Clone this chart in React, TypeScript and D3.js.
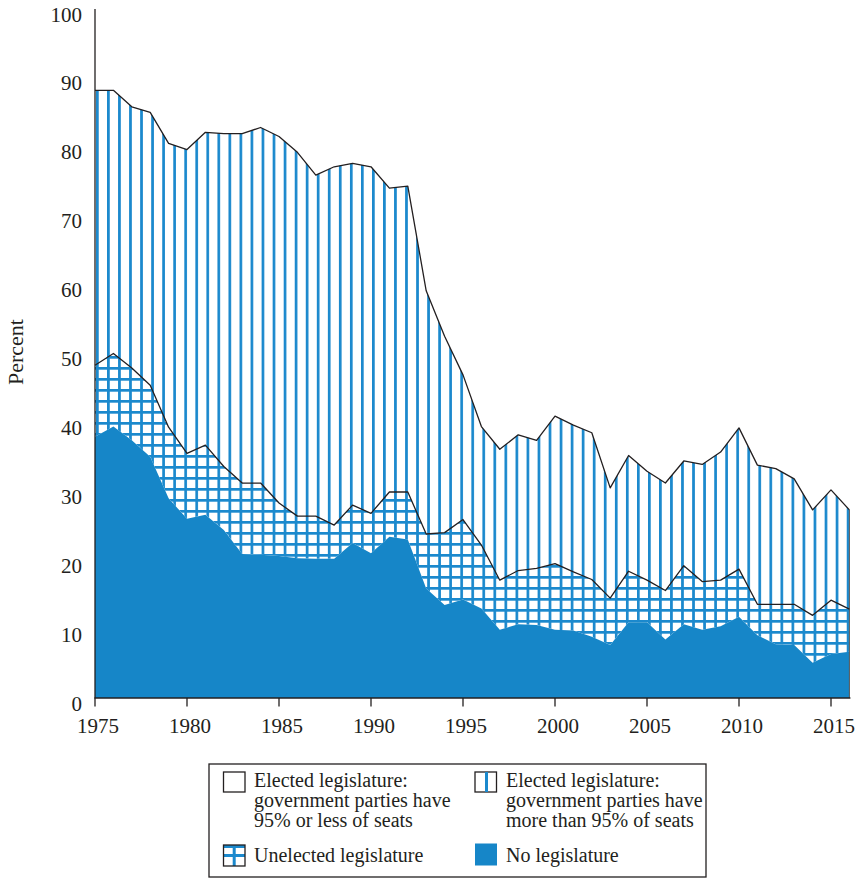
import React from 'react';
import * as d3 from 'd3';

const years = [
  1975, 1976, 1977, 1978, 1979, 1980, 1981, 1982, 1983, 1984,
  1985, 1986, 1987, 1988, 1989, 1990, 1991, 1992, 1993, 1994,
  1995, 1996, 1997, 1998, 1999, 2000, 2001, 2002, 2003, 2004,
  2005, 2006, 2007, 2008, 2009, 2010, 2011, 2012, 2013, 2014,
  2015, 2016,
];

// Share of countries (percent) in each category
const noLegislature = [
  37.9, 39.4, 37.4, 35.0, 29.0, 26.0, 26.6, 24.4, 20.9, 20.8,
  20.6, 20.3, 20.2, 20.2, 22.5, 21.0, 23.4, 23.0, 15.9, 13.5,
  14.3, 13.0, 9.9, 10.7, 10.6, 9.9, 9.8, 8.9, 7.7, 11.0,
  11.0, 8.5, 10.7, 9.9, 10.4, 11.8, 9.1, 7.8, 7.7, 5.1,
  6.4, 6.7,
];
const unelectedLegislature = [
  10.4, 10.6, 10.5, 10.4, 10.3, 9.5, 10.1, 9.2, 10.3, 10.4,
  7.7, 6.1, 6.2, 4.9, 5.5, 5.8, 6.5, 6.9, 7.9, 10.5,
  11.6, 9.2, 7.2, 7.8, 8.2, 9.6, 8.5, 8.3, 6.8, 7.4,
  6.1, 7.1, 8.5, 7.0, 6.7, 6.9, 4.5, 5.8, 5.9, 6.9,
  7.8, 6.2,
];
const electedOver95 = [
  39.9, 38.2, 37.9, 39.6, 41.2, 44.1, 45.4, 48.3, 50.7, 51.6,
  53.2, 52.8, 49.5, 52.0, 49.6, 50.3, 44.1, 44.4, 35.3, 28.5,
  21.0, 17.2, 19.0, 19.7, 18.6, 21.4, 21.3, 21.3, 16.0, 16.8,
  15.8, 15.6, 15.2, 17.0, 18.6, 20.5, 20.2, 19.7, 18.2, 15.3,
  16.0, 14.4,
];
const electedUnder95 = [
  11.8, 11.8, 14.2, 15.0, 19.5, 20.4, 17.9, 18.1, 18.1, 17.2,
  18.5, 20.8, 24.1, 22.9, 22.4, 22.9, 26.0, 25.7, 40.9, 47.5,
  53.1, 60.6, 63.9, 61.8, 62.6, 59.1, 60.4, 61.5, 69.5, 64.8,
  67.1, 68.8, 65.6, 66.1, 64.3, 60.8, 66.2, 66.7, 68.2, 72.7,
  69.8, 72.7,
];

const yTicks = [0, 10, 20, 30, 40, 50, 60, 70, 80, 90, 100];
const xTicks = [1975, 1980, 1985, 1990, 1995, 2000, 2005, 2010, 2015];

const BLUE = '#1686c8';
const STRIPE = '#1b89cd';
const INK = '#231f20';
const FONT = '"Liberation Serif", "Times New Roman", serif';

export default function App() {
  const W = 860;
  const H = 878;
  const x = d3.scaleLinear().domain([1975, 2016]).range([95, 849.4]);
  const y = d3.scaleLinear().domain([0, 100]).range([698, 9]);

  const rows = years.map((yr, i) => ({
    year: yr,
    none: noLegislature[i],
    unel: unelectedLegislature[i],
    over: electedOver95[i],
    under: electedUnder95[i],
  }));
  const series = d3.stack<any>().keys(['none', 'unel', 'over', 'under'])(rows);
  const byKey: Record<string, any> = {};
  series.forEach((s: any) => (byKey[s.key] = s));

  const area = d3
    .area<any>()
    .x((d) => x(d.data.year))
    .y0((d) => y(d[0]))
    .y1((d) => y(d[1]));
  const line = d3
    .line<any>()
    .x((d) => x(d.data.year))
    .y((d) => y(d[1]));

  const last = byKey['over'][byKey['over'].length - 1];

  return (
    <svg
      width={W}
      height={H}
      style={{ position: 'absolute', left: 0, top: 0, background: '#fff' }}
      fontFamily={FONT}
    >
      <defs>
        <pattern id="vstripe" patternUnits="userSpaceOnUse" x={96} y={0} width={11.04} height={11}>
          <rect x={0} y={0} width={11.04} height={11} fill="#fff" />
          <rect x={0} y={0} width={2.7} height={11} fill={STRIPE} />
        </pattern>
        <pattern id="grid" patternUnits="userSpaceOnUse" x={96} y={4} width={11.04} height={11}>
          <rect x={0} y={0} width={11.04} height={11} fill="#fff" />
          <rect x={0} y={0} width={2.7} height={11} fill={STRIPE} />
          <rect x={0} y={0} width={11.04} height={2.7} fill={STRIPE} />
        </pattern>
      </defs>

      <rect x={0} y={0} width={W} height={H} fill="#fff" />

      {/* stacked areas */}
      <path d={area(byKey['over']) || ''} fill="url(#vstripe)" />
      <path d={area(byKey['unel']) || ''} fill="url(#grid)" />
      <path d={area(byKey['none']) || ''} fill={BLUE} />

      {/* right edge */}
      <line x1={x(2016)} x2={x(2016)} y1={y(last[1])} y2={y(0)} stroke="#555" strokeWidth={1} />

      {/* boundary lines */}
      <path d={line(byKey['over']) || ''} fill="none" stroke={INK} strokeWidth={1.3} strokeLinejoin="round" />
      <path d={line(byKey['unel']) || ''} fill="none" stroke={INK} strokeWidth={1.3} strokeLinejoin="round" />

      {/* axes */}
      <line x1={x(1975)} x2={x(1975)} y1={y(100)} y2={y(0)} stroke={INK} strokeWidth={1.3} />
      <line x1={x(1975) - 0.6} x2={x(2016) + 1} y1={y(0)} y2={y(0)} stroke={INK} strokeWidth={1.3} />
      {xTicks.map((t) => (
        <g key={t}>
          <line x1={x(t)} x2={x(t)} y1={y(0)} y2={y(0) + 8.5} stroke={INK} strokeWidth={1.3} />
          <text x={x(t) + 3} y={733} textAnchor="middle" fontSize={21} fill={INK}>
            {t}
          </text>
        </g>
      ))}
      {yTicks.map((t) => (
        <text key={t} x={82} y={y(t) + 12.5} textAnchor="end" fontSize={21} fill={INK}>
          {t}
        </text>
      ))}
      <text
        transform={`translate(23, 352) rotate(-90)`}
        textAnchor="middle"
        fontSize={22}
        fill={INK}
      >
        Percent
      </text>

      {/* legend */}
      <rect x={209} y={764} width={497} height={113} fill="none" stroke={INK} strokeWidth={1.3} />
      <rect x={223.5} y={772} width={21.5} height={20} fill="#fff" stroke={INK} strokeWidth={1.3} />
      <text fontSize={20} fill={INK}>
        <tspan x={254} y={787}>Elected legislature:</tspan>
        <tspan x={254} y={807}>government parties have</tspan>
        <tspan x={254} y={827}>95% or less of seats</tspan>
      </text>

      <rect x={475} y={772} width={21.5} height={20} fill="#fff" stroke={INK} strokeWidth={1.3} />
      <rect x={485} y={772} width={3} height={20} fill={STRIPE} />
      <text fontSize={20} fill={INK}>
        <tspan x={506} y={787}>Elected legislature:</tspan>
        <tspan x={506} y={807}>government parties have</tspan>
        <tspan x={506} y={827}>more than 95% of seats</tspan>
      </text>

      <rect x={223.5} y={845} width={21.5} height={21} fill="#fff" />
      <rect x={223.5} y={845} width={21.5} height={3} fill={STRIPE} />
      <rect x={232.7} y={845} width={3} height={21} fill={STRIPE} />
      <rect x={223.5} y={854} width={21.5} height={3} fill={STRIPE} />
      <rect x={223.5} y={845} width={21.5} height={21} fill="none" stroke={INK} strokeWidth={1.3} />
      <text x={254} y={862} fontSize={20} fill={INK}>
        Unelected legislature
      </text>

      <rect x={475} y={843.5} width={22} height={22} fill={BLUE} />
      <text x={506} y={862} fontSize={20} fill={INK}>
        No legislature
      </text>
    </svg>
  );
}
